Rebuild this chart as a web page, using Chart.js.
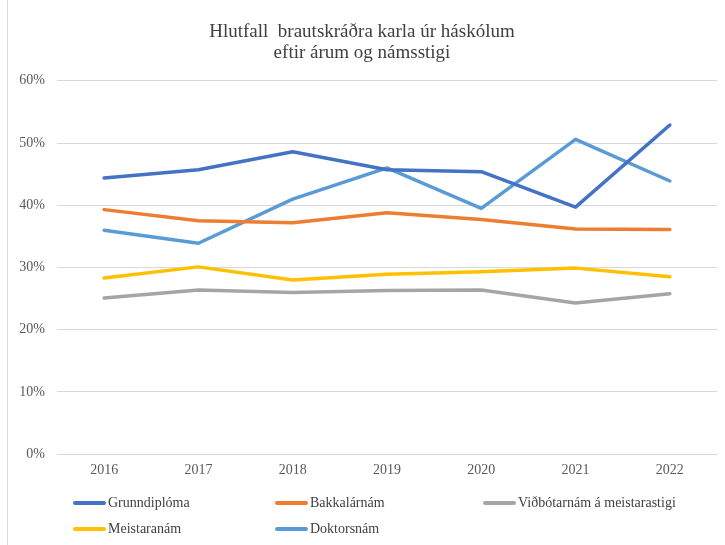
<!DOCTYPE html>
<html>
<head>
<meta charset="utf-8">
<script src="https://cdn.jsdelivr.net/npm/chart.js@4"></script>
<style>
    html, body { margin: 0; padding: 0; background: #fff; }
    #wrap { position: relative; width: 725px; height: 545px; }
    #frame { position: absolute; left: 7px; top: 0; bottom: 0; border-left: 1px solid #d9d9d9; }
    #legend {
        position: absolute; left: 73px; top: 493px;
        display: grid; grid-template-columns: 202px 208px 200px; row-gap: 6px;
        font-family: 'Liberation Serif', 'Times New Roman', serif; font-size: 14px; color: #404040;
    }
    .item { display: flex; align-items: center; height: 20px; white-space: nowrap; }
    .swatch { width: 33px; height: 4px; border-radius: 2px; margin-right: 2px; }
</style>
</head>
<body>
<div id="wrap">
    <canvas id="lineChart" width="725" height="545"></canvas>
    <div id="frame"></div>
    <div id="legend"></div>
</div>
<script>
const years = ['2016', '2017', '2018', '2019', '2020', '2021', '2022']
const seriesNames = ['Grunndipl\u00f3ma', 'Bakkal\u00e1rn\u00e1m', 'Vi\u00f0b\u00f3tarn\u00e1m \u00e1 meistarastigi', 'Meistaran\u00e1m', 'Doktorsn\u00e1m']
const grunndiploma = [44.4, 45.7, 48.6, 45.7, 45.4, 39.7, 52.9]
const bakkalarnam = [39.3, 37.5, 37.2, 38.8, 37.7, 36.2, 36.1]
const vidbotarnam = [25.1, 26.4, 26.0, 26.3, 26.4, 24.3, 25.8]
const meistaranam = [28.3, 30.1, 28.0, 28.9, 29.3, 29.9, 28.5]
const doktorsnam = [36.0, 33.9, 41.0, 46.0, 39.5, 50.6, 43.9]
const colors = ['#4472C4', '#ED7D31', '#A5A5A5', '#FFC000', '#5B9BD5']
const serif = "'Liberation Serif', 'Times New Roman', serif"

const allSeries = [grunndiploma, bakkalarnam, vidbotarnam, meistaranam, doktorsnam]

const ctx = document.getElementById('lineChart').getContext('2d')

new Chart(ctx, {
    type: 'line',
    data: {
        labels: years,
        datasets: allSeries.map((values, i) => ({
            label: seriesNames[i],
            data: values,
            borderColor: colors[i],
            backgroundColor: colors[i],
            borderWidth: 3.5,
            pointRadius: 0,
            tension: 0,
            borderCapStyle: 'round',
            borderJoinStyle: 'round'
        }))
    },
    options: {
        responsive: false,
        animation: false,
        layout: { padding: { left: 7, right: 8, top: 0, bottom: 66 } },
        plugins: {
            legend: { display: false },
            tooltip: { enabled: false },
            title: {
                display: true,
                text: ['Hlutfall  brautskr\u00e1\u00f0ra karla \u00far h\u00e1sk\u00f3lum', 'eftir \u00e1rum og n\u00e1msstigi'],
                color: '#404040',
                font: { family: serif, size: 19, weight: 'normal', lineHeight: 1.1 },
                padding: { top: 22, bottom: 17 }
            }
        },
        scales: {
            x: {
                offset: true,
                grid: { display: false },
                border: { display: false },
                ticks: { color: '#595959', font: { family: serif, size: 14 }, padding: 0 }
            },
            y: {
                min: 0,
                max: 60,
                afterFit: scale => { scale.width = 50 },
                grid: { color: '#d9d9d9', drawTicks: false },
                border: { display: false },
                ticks: {
                    stepSize: 10,
                    color: '#595959',
                    padding: 12,
                    font: { family: serif, size: 14 },
                    callback: value => value + '%'
                }
            }
        }
    }
})

const legend = document.getElementById('legend')
seriesNames.forEach((name, i) => {
    const item = document.createElement('div')
    item.className = 'item'
    item.innerHTML = `<span class="swatch" style="background:${colors[i]}"></span><span>${name}</span>`
    legend.appendChild(item)
})
</script>
</body>
</html>
